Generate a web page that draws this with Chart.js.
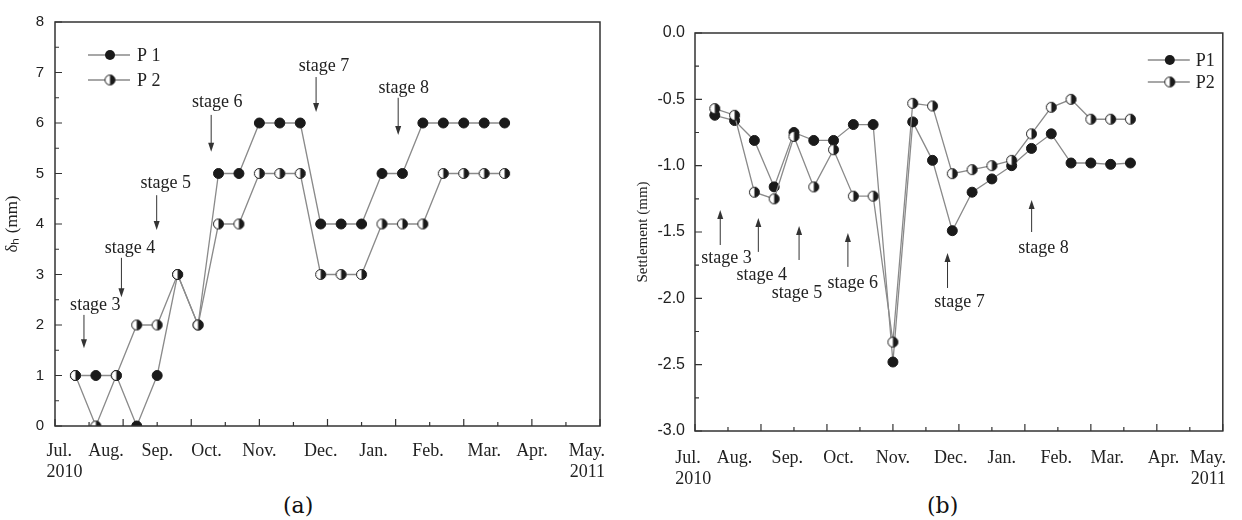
<!DOCTYPE html>
<html lang="en">
<head>
<meta charset="UTF-8">
<title>Horizontal displacement and settlement</title>
<script src="https://cdn.jsdelivr.net/npm/chart.js"></script>
<style>
  body { margin: 0; background: #fff; width: 1242px; height: 520px; position: relative; overflow: hidden; }
  .box { position: absolute; top: 0; height: 490px; }
  #boxA { left: 0; width: 620px; }
  #boxB { left: 620px; width: 622px; }
  .cap { position: absolute; top: 495px; line-height: 1; font-family: "DejaVu Serif", serif; font-size: 22px; color: #111; }
</style>
</head>
<body>
<div class="box" id="boxA"><canvas id="chartA"></canvas></div>
<div class="box" id="boxB"><canvas id="chartB"></canvas></div>
<div class="cap" style="left:283px">(a)</div>
<div class="cap" style="left:927px">(b)</div>
<script>
// measurement dates, in days after 1 Jul 2010
const days = [12, 24, 36, 48, 60, 72, 84, 96, 108, 120, 132, 144, 156, 168, 180, 192, 204, 216, 228, 240, 252, 264];

// (a) horizontal displacement (mm)
const dispP1 = [1, 1, 1, 0, 1, 3, 2, 5, 5, 6, 6, 6, 4, 4, 4, 5, 5, 6, 6, 6, 6, 6];
const dispP2 = [1, 0, 1, 2, 2, 3, 2, 4, 4, 5, 5, 5, 3, 3, 3, 4, 4, 4, 5, 5, 5, 5];

// (b) settlement (mm)
const settP1 = [-0.62, -0.66, -0.81, -1.16, -0.75, -0.81, -0.81, -0.69, -0.69, -2.48, -0.67,
                -0.96, -1.49, -1.20, -1.10, -1.00, -0.87, -0.76, -0.98, -0.98, -0.99, -0.98];
const settP2 = [-0.57, -0.62, -1.20, -1.25, -0.78, -1.16, -0.88, -1.23, -1.23, -2.33, -0.53,
                -0.55, -1.06, -1.03, -1.00, -0.96, -0.76, -0.56, -0.50, -0.65, -0.65, -0.65];

// month labels and where they sit on the day axis
const monthLabels = [['Jul.', '2010'], 'Aug.', 'Sep.', 'Oct.', 'Nov.', 'Dec.', 'Jan.', 'Feb.', 'Mar.', 'Apr.', ['May.', '2011']];
const monthPosA = [-5, 30, 60, 89, 120, 156, 187, 219, 252, 280, 323];
const monthPosB = [-12, 24, 56, 87, 120, 155, 186, 219, 250, 284, 322];

// construction stages: [name, arrow x, arrow tail y, arrow tip y, text x, text y]
const stagesA = [
  ['stage 3', 17, 2.20, 1.54, 23.7, 2.40],
  ['stage 4', 39, 3.33, 2.55, 44.1, 3.52],
  ['stage 5', 59.7, 4.57, 3.88, 65, 4.81],
  ['stage 6', 91.7, 6.16, 5.43, 95.2, 6.42],
  ['stage 7', 153.3, 6.91, 6.22, 157.9, 7.13],
  ['stage 8', 201.5, 6.50, 5.76, 204.8, 6.69]
];
const stagesB = [
  ['stage 3', 15.3, -1.598, -1.334, 19.1, -1.696],
  ['stage 4', 38.4, -1.650, -1.394, 40.5, -1.824],
  ['stage 5', 63.1, -1.711, -1.454, 61.9, -1.959],
  ['stage 6', 92.7, -1.763, -1.507, 95.7, -1.884],
  ['stage 7', 153.1, -1.922, -1.658, 160.3, -2.027],
  ['stage 8', 204.1, -1.500, -1.258, 211.3, -1.620]
];

const INK = '#1a1a1a';
const LINE = '#8a8a8a';

// half filled marker used for P2
function halfDot(r) {
  const s = 2 * r + 3;
  const c = document.createElement('canvas');
  c.width = s; c.height = s;
  const g = c.getContext('2d');
  const m = s / 2;
  g.beginPath(); g.arc(m, m, r, 0, Math.PI * 2); g.fillStyle = '#fff'; g.fill();
  g.beginPath(); g.moveTo(m, m - r); g.arc(m, m, r, -Math.PI / 2, Math.PI / 2); g.closePath();
  g.fillStyle = INK; g.fill();
  g.beginPath(); g.arc(m, m, r, 0, Math.PI * 2); g.lineWidth = 1; g.strokeStyle = INK; g.stroke();
  return c;
}
const halfImg = halfDot(5);

const setups = {
  chartA: {
    legendX: 'left', lx: [33, 75, 55, 82], ly: [33, 58], names: ['P 1', 'P 2'],
    stages: stagesA, yMinor: 0.5, yMajor: 1
  },
  chartB: {
    legendX: 'right', lx: [-75, -33, -53, -27], ly: [27, 49], names: ['P1', 'P2'],
    stages: stagesB, yMinor: 0.25, yMajor: 0.5
  }
};

// frame, inward ticks, stage arrows and the legend
const decor = {
  id: 'decor',
  afterDraw(chart) {
    const st = setups[chart.canvas.id];
    const {ctx, chartArea: a} = chart;
    const x = chart.scales.x, y = chart.scales.y;
    ctx.save();
    ctx.strokeStyle = '#333';
    ctx.lineWidth = 1.5;
    ctx.strokeRect(a.left, a.top, a.right - a.left, a.bottom - a.top);

    ctx.lineWidth = 1.2;
    ctx.beginPath();
    for (let v = 0; v <= 320; v += 20) {
      const px = x.getPixelForValue(v);
      const len = v % 40 === 0 ? 7 : 4;
      ctx.moveTo(px, a.bottom); ctx.lineTo(px, a.bottom - len);
    }
    const n = Math.round((y.max - y.min) / st.yMinor);
    for (let i = 0; i <= n; i++) {
      const v = y.min + i * st.yMinor;
      const py = y.getPixelForValue(v);
      const major = Math.abs(v / st.yMajor - Math.round(v / st.yMajor)) < 1e-6;
      ctx.moveTo(a.left, py); ctx.lineTo(a.left + (major ? 7 : 4), py);
    }
    ctx.stroke();

    ctx.strokeStyle = '#333';
    ctx.fillStyle = '#333';
    ctx.lineWidth = 1;
    ctx.font = '18px "Liberation Serif"';
    ctx.textAlign = 'center';
    ctx.textBaseline = 'middle';
    st.stages.forEach(([name, ax, y0, y1, tx, ty]) => {
      const px = x.getPixelForValue(ax);
      const p0 = y.getPixelForValue(y0), p1 = y.getPixelForValue(y1);
      const dir = p1 > p0 ? 1 : -1;
      ctx.beginPath(); ctx.moveTo(px, p0); ctx.lineTo(px, p1 - dir * 6); ctx.stroke();
      ctx.beginPath(); ctx.moveTo(px, p1); ctx.lineTo(px - 3, p1 - dir * 9); ctx.lineTo(px + 3, p1 - dir * 9);
      ctx.closePath(); ctx.fill();
      ctx.fillStyle = '#222';
      ctx.fillText(name, x.getPixelForValue(tx), y.getPixelForValue(ty));
      ctx.fillStyle = '#333';
    });

    const base = st.legendX === 'left' ? a.left : a.right;
    const [l0, l1, mk, tx] = st.lx.map(d => base + d);
    ctx.textAlign = 'left';
    st.ly.forEach((dy, i) => {
      const py = a.top + dy;
      ctx.strokeStyle = LINE; ctx.lineWidth = 1.3;
      ctx.beginPath(); ctx.moveTo(l0, py); ctx.lineTo(l1, py); ctx.stroke();
      if (i === 0) {
        ctx.beginPath(); ctx.arc(mk, py, 5, 0, Math.PI * 2); ctx.fillStyle = INK; ctx.fill();
      } else {
        ctx.drawImage(halfImg, mk - halfImg.width / 2, py - halfImg.height / 2);
      }
      ctx.fillStyle = '#222';
      ctx.fillText(st.names[i], tx, py + 1);
    });
    ctx.restore();
  }
};

function pts(vals) { return days.map((d, i) => ({x: d, y: vals[i]})); }

function makeChart(id, p1, p2, o) {
  return new Chart(document.getElementById(id), {
    type: 'line',
    data: {
      datasets: [
        { label: 'P1', data: pts(p1), order: 2, borderColor: LINE, borderWidth: 1.3,
          pointStyle: 'circle', pointRadius: 5, pointBackgroundColor: INK, pointBorderColor: INK, pointBorderWidth: 1 },
        { label: 'P2', data: pts(p2), order: 1, borderColor: LINE, borderWidth: 1.3,
          pointStyle: halfImg, pointRadius: 5 }
      ]
    },
    options: {
      responsive: true,
      maintainAspectRatio: false,
      animation: false,
      layout: { padding: o.pad },
      plugins: { legend: { display: false }, tooltip: { enabled: false } },
      scales: {
        x: {
          type: 'linear', min: 0, max: 320,
          grid: { display: false, drawTicks: false },
          border: { display: false },
          afterBuildTicks: s => { s.ticks = o.monthPos.map(v => ({ value: v })); },
          afterFit: s => { s.height = o.xH; },
          ticks: {
            autoSkip: false, maxRotation: 0, align: 'inner', padding: o.xPad, color: '#222',
            font: { family: 'Liberation Serif', size: 18, lineHeight: 1.2 },
            callback: (v, i) => monthLabels[i]
          }
        },
        y: {
          min: o.yMin, max: o.yMax,
          grid: { display: false, drawTicks: false },
          border: { display: false },
          afterFit: s => { s.width = o.yW; },
          ticks: {
            stepSize: o.yStep, padding: o.yPad, color: '#222',
            font: { family: 'Liberation Sans', size: o.tickSize },
            callback: o.fmt
          },
          title: {
            display: true, text: o.title, color: '#222',
            padding: { top: o.titlePad, bottom: 0 },
            font: { family: 'Liberation Serif', size: o.titleSize }
          }
        }
      }
    },
    plugins: [decor]
  });
}

makeChart('chartA', dispP1, dispP2, {
  pad: { left: 0, right: 20, top: 22, bottom: 0 }, xH: 64, yW: 55, xPad: 14, yPad: 11,
  yMin: 0, yMax: 8, yStep: 1, tickSize: 15, fmt: v => String(v),
  title: 'δₕ (mm)', titleSize: 17, titlePad: 2, monthPos: monthPosA
});

makeChart('chartB', settP1, settP2, {
  pad: { left: 0, right: 16, top: 33, bottom: 0 }, xH: 59, yW: 75, xPad: 16, yPad: 10,
  yMin: -3, yMax: 0, yStep: 0.5, tickSize: 16, fmt: v => v.toFixed(1),
  title: 'Settlement (mm)', titleSize: 15, titlePad: 14, monthPos: monthPosB
});
</script>
</body>
</html>
